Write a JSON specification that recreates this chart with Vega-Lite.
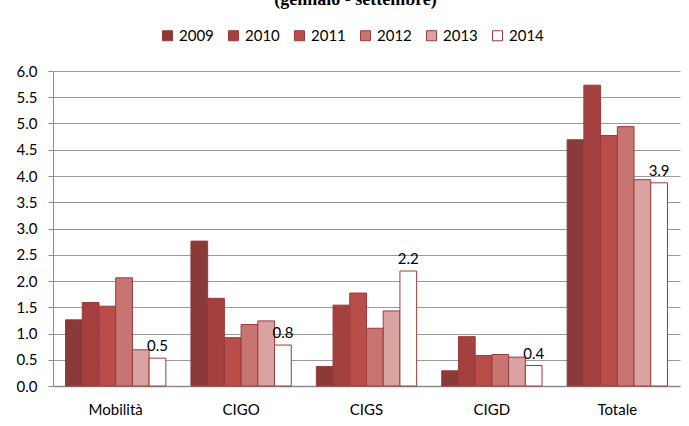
{
  "$schema": "https://vega.github.io/schema/vega-lite/v6.json",
  "autosize": "none",
  "width": 627,
  "height": 315,
  "padding": {"left": 53, "top": 71, "right": 9, "bottom": 40},
  "background": "white",
  "title": {
    "text": "(gennaio - settembre)",
    "font": "Liberation Serif",
    "fontSize": 18,
    "fontWeight": "bold",
    "color": "#000000",
    "anchor": "middle",
    "dx": -11,
    "dy": -15
  },
  "config": {
    "view": {"stroke": null},
    "font": "Lato"
  },
  "data": {
    "values": [
      {"cat": "Mobilità", "year": "2009", "value": 1.26},
      {"cat": "Mobilità", "year": "2010", "value": 1.59},
      {"cat": "Mobilità", "year": "2011", "value": 1.52},
      {"cat": "Mobilità", "year": "2012", "value": 2.06},
      {"cat": "Mobilità", "year": "2013", "value": 0.69},
      {"cat": "Mobilità", "year": "2014", "value": 0.53},
      {"cat": "CIGO", "year": "2009", "value": 2.76},
      {"cat": "CIGO", "year": "2010", "value": 1.67},
      {"cat": "CIGO", "year": "2011", "value": 0.92},
      {"cat": "CIGO", "year": "2012", "value": 1.17},
      {"cat": "CIGO", "year": "2013", "value": 1.24},
      {"cat": "CIGO", "year": "2014", "value": 0.78},
      {"cat": "CIGS", "year": "2009", "value": 0.37},
      {"cat": "CIGS", "year": "2010", "value": 1.54},
      {"cat": "CIGS", "year": "2011", "value": 1.77},
      {"cat": "CIGS", "year": "2012", "value": 1.10},
      {"cat": "CIGS", "year": "2013", "value": 1.43},
      {"cat": "CIGS", "year": "2014", "value": 2.19},
      {"cat": "CIGD", "year": "2009", "value": 0.29},
      {"cat": "CIGD", "year": "2010", "value": 0.94},
      {"cat": "CIGD", "year": "2011", "value": 0.58},
      {"cat": "CIGD", "year": "2012", "value": 0.60},
      {"cat": "CIGD", "year": "2013", "value": 0.55},
      {"cat": "CIGD", "year": "2014", "value": 0.39},
      {"cat": "Totale", "year": "2009", "value": 4.69},
      {"cat": "Totale", "year": "2010", "value": 5.73},
      {"cat": "Totale", "year": "2011", "value": 4.77},
      {"cat": "Totale", "year": "2012", "value": 4.94},
      {"cat": "Totale", "year": "2013", "value": 3.93},
      {"cat": "Totale", "year": "2014", "value": 3.87}
    ]
  },
  "encoding": {
    "x": {
      "field": "cat",
      "type": "nominal",
      "sort": ["Mobilità", "CIGO", "CIGS", "CIGD", "Totale"],
      "scale": {"paddingInner": 0.2, "paddingOuter": 0.1},
      "axis": {
        "title": null,
        "labelAngle": 0,
        "ticks": false,
        "labelPadding": 16,
        "labelFont": "Lato",
        "labelFontSize": 15,
        "labelColor": "#000000",
        "domainColor": "#8c8c8c",
        "domainWidth": 1.5
      }
    },
    "xOffset": {
      "field": "year",
      "type": "nominal",
      "scale": {"domain": ["2009", "2010", "2011", "2012", "2013", "2014"], "paddingInner": 0, "paddingOuter": 0}
    },
    "y": {
      "field": "value",
      "type": "quantitative",
      "scale": {"domain": [0, 6], "nice": false},
      "axis": {
        "title": null,
        "values": [0, 0.5, 1, 1.5, 2, 2.5, 3, 3.5, 4, 4.5, 5, 5.5, 6],
        "format": ".1f",
        "tickSize": 5,
        "tickColor": "#8c8c8c",
        "labelPadding": 11,
        "labelFont": "Lato",
        "labelFontSize": 15,
        "labelColor": "#000000",
        "domainColor": "#8c8c8c",
        "gridColor": "#9a9a9a",
        "gridWidth": 1.2
      }
    }
  },
  "layer": [
    {
      "mark": {"type": "bar", "stroke": "#9a3a3a", "strokeWidth": 1},
      "encoding": {
        "color": {
          "field": "year",
          "type": "nominal",
          "scale": {
            "domain": ["2009", "2010", "2011", "2012", "2013", "2014"],
            "range": ["#8b3a3a", "#a44040", "#b94d4a", "#c87472", "#d9a3a2", "#ffffff"]
          },
          "legend": {
            "title": null,
            "orient": "none",
            "direction": "horizontal",
            "columns": 6,
            "legendX": 107,
            "legendY": -43,
            "symbolType": "square",
            "symbolSize": 100,
            "symbolStrokeColor": "#9a3a3a",
            "symbolStrokeWidth": 1,
            "symbolOpacity": 1,
            "labelFont": "Lato",
            "labelFontSize": 15,
            "labelColor": "#000000",
            "labelOffset": 4,
            "columnPadding": 12
          }
        }
      }
    },
    {
      "transform": [{"filter": "datum.year === '2014'"}],
      "mark": {"type": "text", "baseline": "bottom", "dy": -4, "font": "Lato", "fontSize": 15, "color": "#000000"},
      "encoding": {
        "text": {"field": "value", "type": "quantitative", "format": ".1f"}
      }
    }
  ]
}
